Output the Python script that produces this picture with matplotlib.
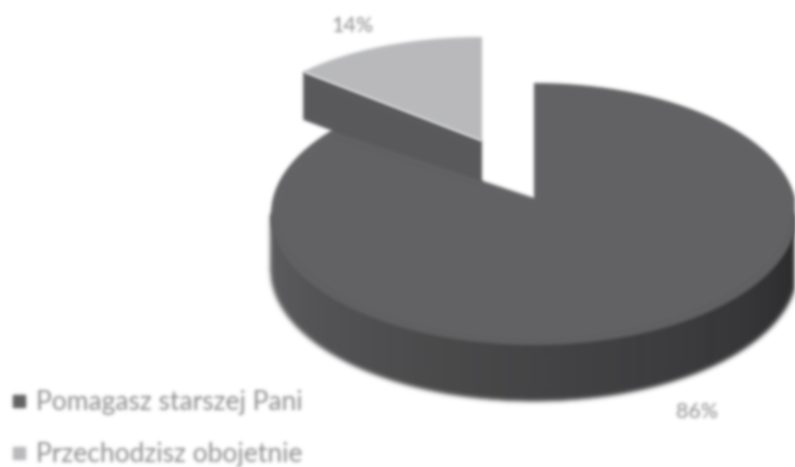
import numpy as np
import matplotlib
matplotlib.use('Agg')
import matplotlib.pyplot as plt
from matplotlib.patches import Polygon
from matplotlib.collections import PolyCollection
from matplotlib.lines import Line2D

# Data
labels = ['Pomagasz starszej Pani', 'Przechodzisz obojetnie']
shares = [86, 14]
pct_labels = ['86%', '14%']
colors = ['#626264', '#b9babc']
text_color = '#8c8c8c'

plt.rcParams['font.family'] = ['Lato', 'DejaVu Sans']


# the reference is a blurry scan, so soften everything a bit
def blur(img, dpi, sigma=1.7):
    pad = int(4 * sigma)
    x = np.arange(-pad, pad + 1)
    k = np.exp(-x**2 / (2 * sigma**2))
    k = k / k.sum()
    out = np.pad(img, ((pad, pad), (pad, pad), (0, 0)))
    # blur premultiplied colour, otherwise edges get a halo
    out[..., :3] *= out[..., 3:]
    out = np.apply_along_axis(lambda c: np.convolve(c, k, mode='same'), 0, out)
    out = np.apply_along_axis(lambda c: np.convolve(c, k, mode='same'), 1, out)
    alpha = np.clip(out[..., 3:], 1e-4, 1)
    out[..., :3] = np.clip(out[..., :3] / alpha, 0, 1)
    return out, -pad, -pad


def arc(cx, cy, rx, ry, start, stop, n=120):
    t = np.radians(np.linspace(start, stop, n))
    return np.column_stack([cx + rx * np.sin(t), cy - ry * np.cos(t)])


fig = plt.figure(figsize=(7.95, 4.67), dpi=100)
ax = fig.add_axes([0, 0, 1, 1])
ax.set_xlim(0, 795)
ax.set_ylim(467, 0)
ax.axis('off')

split = 360 * shares[0] / sum(shares)

# geometry of the two exploded slices, in pixels
main_c, main_r, main_apex = (534, 214), (263, 131), (534, 198)
small_c, small_r, small_apex = (482, 133), (232, 96), (482, 141)
depth = 56
small_depth = 48

parts = []

# side wall of the big slice, gradient built from thin strips
# strips start a little inside the rim so no light seam shows under the top face
angles = np.linspace(90, 270, 181)
cmap = matplotlib.colors.LinearSegmentedColormap.from_list(
    'side', ['#232324', '#343436', '#3e3e40', '#484849', '#525254', '#5a5a5c'])
strips = []
for a0, a1 in zip(angles[:-1], angles[1:]):
    rim = arc(*main_c, *main_r, a0, a1, 2)
    inner = rim + (np.array(main_c) - rim) * 0.1
    strips.append(np.vstack([inner, rim[1], rim[1] + [0, depth], rim[0] + [0, depth], rim[0]]))
side = PolyCollection(strips, array=np.linspace(0, 1, len(strips)), cmap=cmap,
                      edgecolors='face', linewidths=0.5)
ax.add_collection(side)
parts.append(side)

# cut face of the small slice, runs on under the big slice
end = arc(*small_c, *small_r, split, split, 1)[0]
main_end = arc(*main_c, *main_r, split, split, 1)[0]
wall = Polygon([end, small_apex, (small_apex[0], small_apex[1] + 50),
                (main_end[0], main_end[1] + 14), main_end,
                (end[0], end[1] + small_depth)], closed=True, fc='#5a5a5c', ec='none')
ax.add_patch(wall)
parts.append(wall)

# top faces
main_top = Polygon(np.vstack([[main_apex], arc(*main_c, *main_r, 0, split)]),
                   closed=True, fc=colors[0], ec='none')
small_top = Polygon(np.vstack([[small_apex], arc(*small_c, *small_r, split, 360)]),
                    closed=True, fc=colors[1], ec='none')
ax.add_patch(main_top)
ax.add_patch(small_top)
parts += [main_top, small_top]

# percent labels
parts.append(ax.text(697, 412, pct_labels[0], color=text_color, fontsize=15.5,
                     ha='center', va='center'))
parts.append(ax.text(352, 26, pct_labels[1], color=text_color, fontsize=15.5,
                     ha='center', va='center'))

# legend
handles = [Line2D([], [], ls='none', marker='s', ms=9, color=c) for c in colors]
leg = ax.legend(handles, labels, loc='upper left', bbox_to_anchor=(6 / 795, 1 - 390 / 467),
                frameon=False, fontsize=19, labelcolor=text_color, labelspacing=1.04,
                handletextpad=0.15, handlelength=1.0, borderpad=0, borderaxespad=0)
for item in leg.get_texts() + leg.legend_handles:
    parts.append(item)

for p in parts:
    p.set_agg_filter(blur)
    p.set_rasterized(True)

fig.savefig('out.png', dpi=100)
